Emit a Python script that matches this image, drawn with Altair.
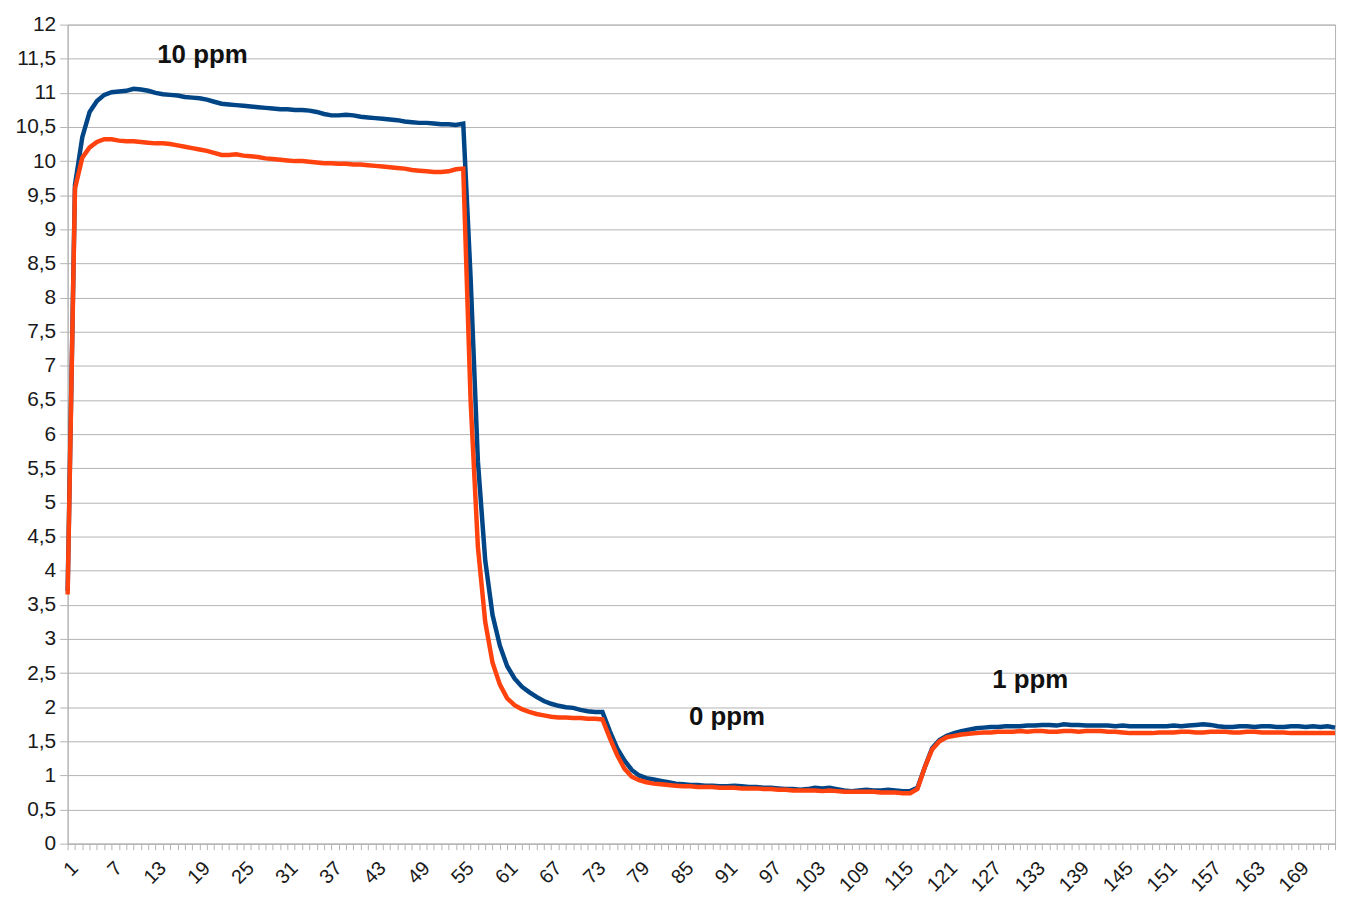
import altair as alt
import pandas as pd

# Series values, categories 1..174
blue = [
    3.70, 9.65, 10.35, 10.72, 10.88, 10.97, 11.01, 11.02, 11.03, 11.06,
    11.05, 11.03, 11.00, 10.98, 10.97, 10.96, 10.94, 10.93, 10.92, 10.90,
    10.87, 10.84, 10.83, 10.82, 10.81, 10.80, 10.79, 10.78, 10.77, 10.76,
    10.76, 10.75, 10.75, 10.74, 10.72, 10.69, 10.67, 10.67, 10.68, 10.67,
    10.65, 10.64, 10.63, 10.62, 10.61, 10.60, 10.58, 10.57, 10.56, 10.56,
    10.55, 10.54, 10.54, 10.53, 10.55, 8.30, 5.60, 4.15, 3.35, 2.90,
    2.60, 2.42, 2.30, 2.22, 2.15, 2.09, 2.05, 2.02, 2.00, 1.99,
    1.96, 1.94, 1.93, 1.93, 1.65, 1.40, 1.22, 1.08, 1.00, 0.96,
    0.94, 0.92, 0.90, 0.88, 0.87, 0.86, 0.86, 0.85, 0.85, 0.84,
    0.84, 0.85, 0.84, 0.83, 0.83, 0.82, 0.82, 0.81, 0.80, 0.80,
    0.79, 0.80, 0.82, 0.81, 0.82, 0.80, 0.78, 0.77, 0.78, 0.79,
    0.78, 0.78, 0.79, 0.78, 0.77, 0.77, 0.82, 1.12, 1.40, 1.52,
    1.58, 1.62, 1.65, 1.67, 1.69, 1.70, 1.71, 1.71, 1.72, 1.72,
    1.72, 1.73, 1.73, 1.74, 1.74, 1.73, 1.75, 1.74, 1.74, 1.73,
    1.73, 1.73, 1.73, 1.72, 1.73, 1.72, 1.72, 1.72, 1.72, 1.72,
    1.72, 1.73, 1.72, 1.73, 1.74, 1.75, 1.74, 1.72, 1.71, 1.71,
    1.72, 1.72, 1.71, 1.72, 1.72, 1.71, 1.71, 1.72, 1.72, 1.71,
    1.72, 1.71, 1.72, 1.70,
]
red = [
    3.65, 9.60, 10.05, 10.20, 10.28, 10.32, 10.32, 10.30, 10.29, 10.29,
    10.28, 10.27, 10.26, 10.26, 10.25, 10.23, 10.21, 10.19, 10.17, 10.15,
    10.12, 10.09, 10.09, 10.10, 10.08, 10.07, 10.06, 10.04, 10.03, 10.02,
    10.01, 10.00, 10.00, 9.99, 9.98, 9.97, 9.97, 9.96, 9.96, 9.95,
    9.95, 9.94, 9.93, 9.92, 9.91, 9.90, 9.89, 9.87, 9.86, 9.85,
    9.84, 9.84, 9.85, 9.88, 9.89, 6.50, 4.35, 3.25, 2.65, 2.33,
    2.13, 2.03, 1.97, 1.93, 1.90, 1.88, 1.86, 1.85, 1.85, 1.84,
    1.84, 1.83, 1.83, 1.82, 1.55, 1.30, 1.10, 0.98, 0.93, 0.90,
    0.88, 0.87, 0.86, 0.85, 0.84, 0.84, 0.83, 0.83, 0.83, 0.82,
    0.82, 0.82, 0.81, 0.81, 0.81, 0.80, 0.80, 0.79, 0.79, 0.78,
    0.78, 0.78, 0.78, 0.77, 0.78, 0.77, 0.76, 0.76, 0.76, 0.76,
    0.76, 0.75, 0.75, 0.75, 0.74, 0.74, 0.80, 1.12, 1.38, 1.50,
    1.56, 1.58, 1.60, 1.61, 1.62, 1.63, 1.63, 1.64, 1.64, 1.64,
    1.65, 1.64, 1.65, 1.65, 1.64, 1.64, 1.65, 1.65, 1.64, 1.65,
    1.65, 1.65, 1.64, 1.64, 1.63, 1.62, 1.62, 1.62, 1.62, 1.63,
    1.63, 1.63, 1.64, 1.64, 1.63, 1.63, 1.64, 1.64, 1.64, 1.63,
    1.63, 1.64, 1.64, 1.63, 1.63, 1.63, 1.63, 1.62, 1.62, 1.62,
    1.62, 1.62, 1.62, 1.62,
]
categories = list(range(1, len(blue) + 1))

y_ticks = [i * 0.5 for i in range(0, 25)]

ann_labels = ["10 ppm", "0 ppm", "1 ppm"]
ann_x = [19.4, 91.0, 132.4]
ann_y = [11.56, 1.86, 2.39]

BLUE = "#004586"
RED = "#ff420e"
GRID = "#b3b3b3"
FONT = "Liberation Sans"

df_blue = pd.DataFrame({"cat": categories, "value": blue})
df_red = pd.DataFrame({"cat": categories, "value": red})
df_ann = pd.DataFrame({"label": ann_labels, "cat": ann_x, "value": ann_y})

x_scale = alt.Scale(domain=[1, len(categories)], nice=False, zero=False)
y_scale = alt.Scale(domain=[0, 12], nice=False)

x_axis = alt.Axis(
    values=categories,
    labelExpr="(datum.value - 1) % 6 == 0 ? '' + datum.value : ''",
    labelAngle=-45,
    labelAlign="right",
    labelBaseline="top",
    labelOverlap=False,
    labelFlush=False,
    labelFontSize=20,
    labelFont=FONT,
    labelColor="#1a1a1a",
    labelPadding=8,
    tickSize=6,
    tickColor=GRID,
    domainColor=GRID,
    grid=False,
    title=None,
)
y_axis = alt.Axis(
    values=y_ticks,
    format="~g",
    labelExpr="replace(datum.label, '.', ',')",
    labelFontSize=21,
    labelFont=FONT,
    labelColor="#1a1a1a",
    labelPadding=4,
    labelOverlap=False,
    tickSize=8,
    tickColor=GRID,
    domainColor=GRID,
    gridColor=GRID,
    grid=True,
    title=None,
)

x_enc = alt.X("cat:Q", scale=x_scale, axis=x_axis)
y_enc = alt.Y("value:Q", scale=y_scale, axis=y_axis)

line_blue = alt.Chart(df_blue).mark_line(color=BLUE, strokeWidth=4.5).encode(
    x=x_enc, y=y_enc,
)
line_red = alt.Chart(df_red).mark_line(color=RED, strokeWidth=4.5).encode(
    x=x_enc, y=y_enc,
)
text = alt.Chart(df_ann).mark_text(
    font=FONT, fontSize=26, fontWeight="bold", color="#111111",
    align="center", baseline="middle",
).encode(
    x=x_enc, y=y_enc,
    text="label:N",
)

chart = alt.layer(line_blue, line_red, text).properties(
    width=1275,
    height=824,
    autosize=alt.AutoSizeParams(type="none"),
    padding={"left": 60, "top": 14, "right": 8, "bottom": 60},
    background="white",
).configure_view(stroke=GRID, strokeWidth=1)

chart.save("out.html", embed_options={"renderer": "svg", "actions": False})
